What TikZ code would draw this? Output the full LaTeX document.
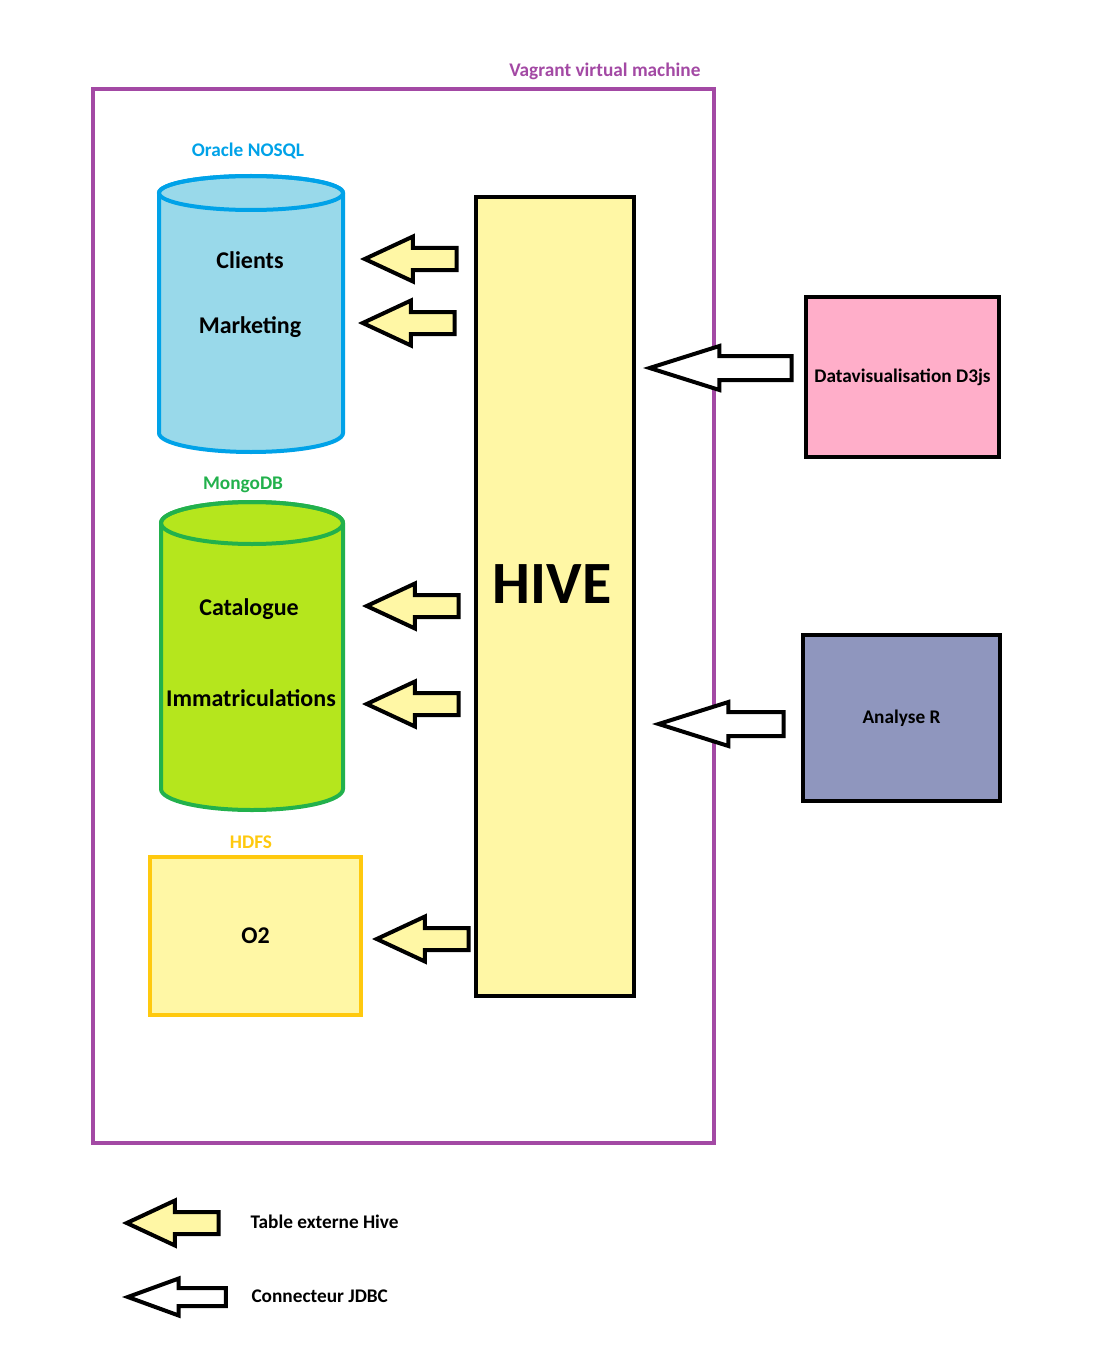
\documentclass[tikz,border=0pt]{standalone}
\usepackage{fontspec}
\setmainfont{Carlito}
\usetikzlibrary{shapes, shapes.arrows, positioning}

\definecolor{vmpurple}{RGB}{163,73,164}
\definecolor{nosqlblue}{RGB}{0,162,232}
\definecolor{nosqlfill}{RGB}{153,217,234}
\definecolor{mongogreen}{RGB}{34,177,76}
\definecolor{mongofill}{RGB}{181,230,29}
\definecolor{hdfsgold}{RGB}{255,201,14}
\definecolor{hiveyellow}{RGB}{255,247,165}
\definecolor{d3pink}{RGB}{255,174,201}
\definecolor{rblue}{RGB}{143,150,190}

\begin{document}
\begin{tikzpicture}[x=1pt, y=-1pt]
	\tikzstyle{box} = [draw, line width=4pt, inner sep=0pt]
	\tikzstyle{base} = [line width=4pt]
	\tikzstyle{tab} = [single arrow, shape border rotate=180, anchor=tip, draw, line width=4pt, fill=hiveyellow, inner xsep=0pt, inner ysep=9pt, single arrow head extend=11.5pt, single arrow tip angle=50, minimum height=92pt]
	\tikzstyle{jdbc} = [tab, fill=white, inner ysep=10pt, single arrow head extend=10pt, single arrow tip angle=35]
	\tikzstyle{big} = [font=\fontsize{24}{26}\selectfont\bfseries, anchor=base]
	\tikzstyle{small} = [font=\fontsize{19.3}{21}\selectfont\bfseries]

	\useasboundingbox (0,0) rectangle (1106,1364);

	% machine virtuelle
	\node[box, draw=vmpurple, minimum width=621pt, minimum height=1054pt] (vm) at (403.5,616) {};
	\node[small, text=vmpurple, anchor=base east] (vmlabel) at (704,77) {Vagrant virtual machine};

	% bases de donnees
	\draw[base, draw=nosqlblue, fill=nosqlfill] (159,193) -- (159,433)
		arc[start angle=180, end angle=0, x radius=92, y radius=19] -- (343,193)
		arc[start angle=0, end angle=-180, x radius=92, y radius=17] -- cycle;
	\draw[base, draw=nosqlblue] (251,193) ellipse[x radius=92, y radius=17];
	\coordinate (nosql) at (251,313);
	\node[small, text=nosqlblue, anchor=base] (nosqllabel) at (248,157) {Oracle NOSQL};
	\node[big] (clients) at (250,268) {Clients};
	\node[big] (marketing) at (250,333) {Marketing};

	\draw[base, draw=mongogreen, fill=mongofill] (161,523) -- (161,789)
		arc[start angle=180, end angle=0, x radius=91, y radius=21] -- (343,523)
		arc[start angle=0, end angle=-180, x radius=91, y radius=21] -- cycle;
	\draw[base, draw=mongogreen] (252,523) ellipse[x radius=91, y radius=21];
	\coordinate (mongo) at (252,655);
	\node[small, text=mongogreen, anchor=base] (mongolabel) at (243,489) {MongoDB};
	\node[big] (catalogue) at (249,615) {Catalogue};
	\node[big] (immat) at (251,706) {Immatriculations};

	\node[box, draw=hdfsgold, fill=hiveyellow, minimum width=211pt, minimum height=158pt, font=\fontsize{24}{26}\selectfont\bfseries] (hdfs) at (255.5,936) {O2};
	\node[small, text=hdfsgold, anchor=base] (hdfslabel) at (251,848) {HDFS};

	% hive
	\node[box, fill=hiveyellow, minimum width=158pt, minimum height=798pt] (hive) at (554.5,596.5) {};
	\node[font=\fontsize{60}{60}\selectfont\bfseries, anchor=base] (hivelabel) at (552,603) {HIVE};

	% clients externes
	\node[box, fill=d3pink, minimum width=193pt, minimum height=160pt, small] (d3) at (902.5,377) {Datavisualisation D3js};
	\node[box, fill=rblue, minimum width=197pt, minimum height=166pt, small] (r) at (901.5,718) {Analyse R};

	% fleches
	\node[tab] (t1) at (360,259) {};
	\node[tab] (t2) at (358,323) {};
	\node[tab] (t3) at (362,606) {};
	\node[tab] (t4) at (362,704) {};
	\node[tab] (t5) at (372,939) {};
	\node[jdbc, minimum height=142pt] (j1) at (643,368) {};
	\node[jdbc, minimum height=125pt] (j2) at (652,724) {};

	% legende
	\node[tab] (lt) at (122,1223) {};
	\node[small, anchor=base west] (ltlabel) at (247,1228) {Table externe Hive};
	\node[jdbc, minimum height=98pt, inner ysep=7pt, single arrow head extend=9.5pt, single arrow tip angle=40] (lj) at (122,1297) {};
	\node[small, anchor=base west] (ljlabel) at (248,1302) {Connecteur JDBC};
\end{tikzpicture}
\end{document}
